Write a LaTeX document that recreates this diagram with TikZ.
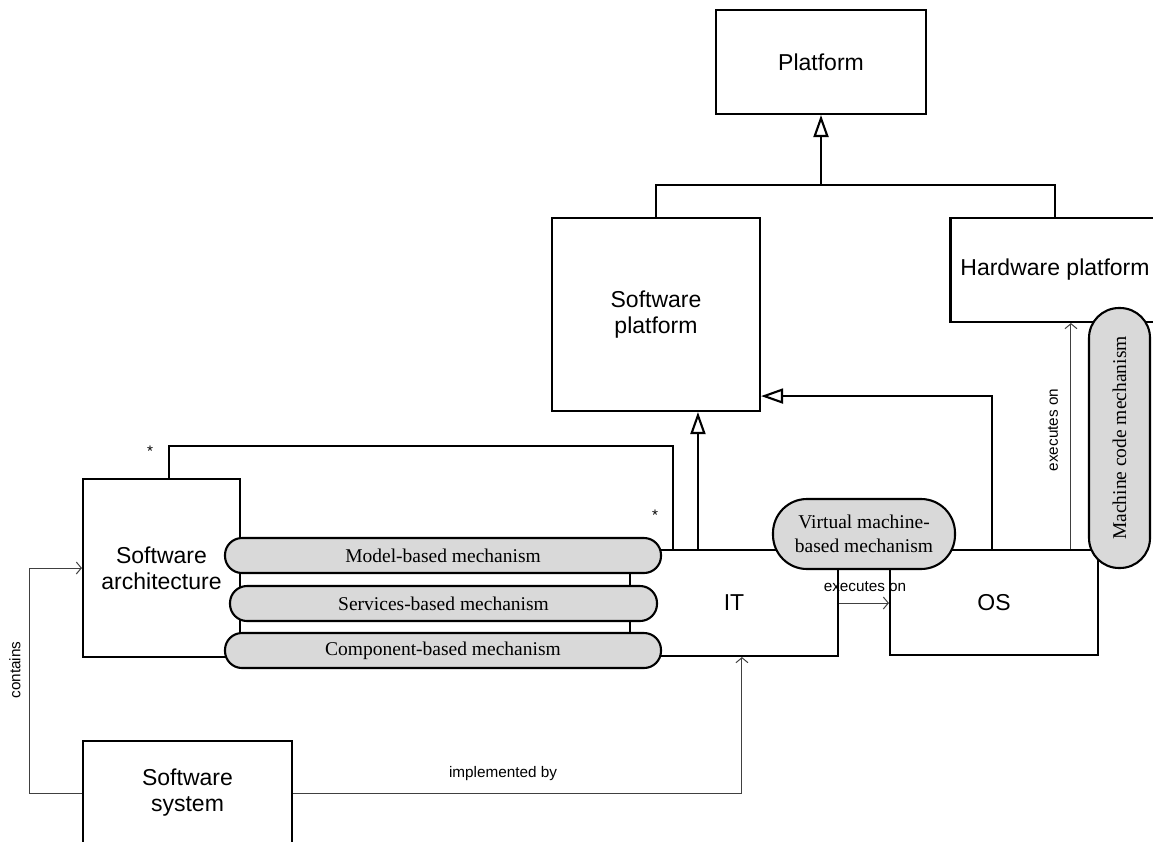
\documentclass[tikz,border=0pt]{standalone}
\usepackage{fontspec}
\setmainfont{Liberation Sans}
\newfontfamily\pillfont{Liberation Serif}
\usetikzlibrary{arrows.meta,calc}

\begin{document}
\begin{tikzpicture}[x=1pt,y=-1pt,
  box/.style={draw, line width=2.1pt, fill=white, inner sep=0pt, align=center,
    font=\fontsize{23}{26}\selectfont},
  pill/.style={draw, line width=2.1pt, fill=black!15, inner sep=0pt, align=center,
    font=\pillfont\fontsize{19.5}{24}\selectfont},
  gen/.style={line width=2.1pt, -{Triangle[open, length=22pt, width=15pt, line width=2.1pt]}},
  assoc/.style={line width=2.1pt},
  rel/.style={line width=1pt, draw=black!75, -{Straight Barb[length=5pt, width=12pt, line width=1pt]}},
  lbl/.style={font=\fontsize{15.3}{17}\selectfont, inner sep=0pt},
]
\useasboundingbox (0,0) rectangle (1153,841);

% classes
\node[box, minimum width=210pt, minimum height=104pt] (plat) at (821,62) {Platform};
\node[box, minimum width=208pt, minimum height=193pt] (swp) at (656,314.5) {Software\\platform};
\node[box, minimum width=209pt, minimum height=104pt] (hwp) at (1055,270) {Hardware platform};
\node[box, minimum width=157pt, minimum height=178pt] (sa) at (161.5,568) {Software\\architecture};
\node[box, minimum width=208pt, minimum height=106pt] (it) at (734,603) {IT};
\node[box, minimum width=208pt, minimum height=105pt] (os) at (994,602.5) {OS};
\node[box, minimum width=209pt, minimum height=104pt] (ss) at (187.5,793) {Software\\system};

% attachment points on the class borders
\coordinate (itgen) at ($(it.north west)+(69,0)$);
\coordinate (itassoc) at ($(it.north west)+(44,0)$);
\coordinate (itimpl) at ($(it.south west)+(113,0)$);
\coordinate (osgen) at ($(os.north west)+(103,0)$);
\coordinate (osexec) at ($(os.north west)+(182,0)$);
\coordinate (swpin) at ($(swp.south east)+(0,-16)$);
\coordinate (saassoc) at ($(sa.north west)+(87,0)$);

% generalisations
\coordinate (gj) at (821,185);
\draw[assoc] (swp.north) |- (gj) -| (hwp.north);
\draw[gen] (gj) -- (plat.south);
\draw[gen] (itgen) -- (itgen |- swp.south);
\draw[gen] (osgen) |- (swpin);

% association between architecture and IT
\draw[assoc] (saassoc) -- ++(0,-32) -| (itassoc);
\node[lbl] (m1) at (150,451) {*};
\node[lbl] (m2) at (655,515) {*};

% dependencies
\draw[rel] (ss.west) -- ++(-52,0) |- (sa.west);
\node[lbl, rotate=90] (lc) at (15,670) {contains};
\draw[rel] (ss.east) -| (itimpl);
\node[lbl] (li) at (503,774) {implemented by};
\draw[rel] (it.east) -- (it.east -| os.west);
\node[lbl] (le1) at (865,587) {executes on};
\draw[rel] (osexec) -- (osexec |- hwp.south);
\node[lbl, rotate=90] (le2) at (1053,430) {executes on};

% mechanisms
\node[pill, minimum width=436pt, minimum height=35pt, rounded corners=17pt] (mb) at (443,555.5) {Model-based mechanism};
\node[pill, minimum width=427pt, minimum height=35pt, rounded corners=17pt] (sb) at (443.5,603.5) {Services-based mechanism};
\node[pill, minimum width=436pt, minimum height=35pt, rounded corners=17pt] (cb) at (443,650.5) {Component-based mechanism};
\node[pill, minimum width=182pt, minimum height=70pt, rounded corners=34pt] (vm) at (864,534) {Virtual machine-\\based mechanism};
\node[pill, rotate=90, minimum width=260pt, minimum height=61pt, rounded corners=30pt] (mc) at (1119.5,438) {Machine code mechanism};
\end{tikzpicture}
\end{document}
